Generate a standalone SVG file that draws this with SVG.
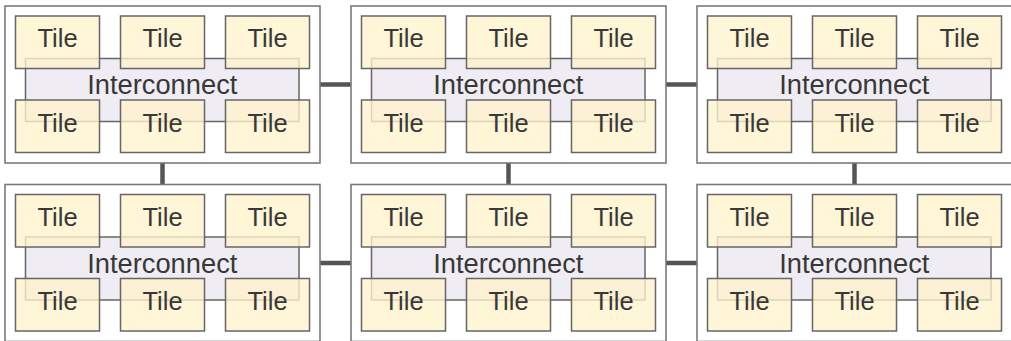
<svg xmlns="http://www.w3.org/2000/svg" width="1011" height="341" viewBox="0 0 1011 341">
  <style>
    .chip { fill: #ffffff; stroke: #7a7a7a; stroke-width: 1.6; }
    .noc { fill: #efecf4; stroke: #666666; stroke-width: 1.5; }
    .tile { fill: #fff2cc; fill-opacity: 0.78; stroke: #666666; stroke-width: 1.5; }
    .tl { font-family: "Liberation Sans", Arial, sans-serif; font-size: 25.5px; fill: #383838; text-anchor: middle; }
    .nl { font-family: "Liberation Sans", Arial, sans-serif; font-size: 27.3px; fill: #383838; text-anchor: middle; }
    .link { stroke: #555555; stroke-width: 4.5; fill: none; }
  </style>
  <defs>
    <!-- one chip: outer frame, interconnect, 2x3 tiles -->
    <g id="chip-body">
      <rect class="chip" x="0" y="0" width="315" height="157"/>
      <g class="interconnect">
        <rect class="noc" x="20.5" y="52.5" width="273.5" height="63"/>
        <text class="nl" x="157.3" y="88.3">Interconnect</text>
      </g>
      <g class="tile-node"><rect class="tile" x="10.5" y="10" width="84" height="52.5"/><text class="tl" x="52.5" y="41.3">Tile</text></g>
      <g class="tile-node"><rect class="tile" x="115.5" y="10" width="84" height="52.5"/><text class="tl" x="157.5" y="41.3">Tile</text></g>
      <g class="tile-node"><rect class="tile" x="220.5" y="10" width="84" height="52.5"/><text class="tl" x="262.5" y="41.3">Tile</text></g>
      <g class="tile-node"><rect class="tile" x="10.5" y="94" width="84" height="52.5"/><text class="tl" x="52.5" y="125.5">Tile</text></g>
      <g class="tile-node"><rect class="tile" x="115.5" y="94" width="84" height="52.5"/><text class="tl" x="157.5" y="125.5">Tile</text></g>
      <g class="tile-node"><rect class="tile" x="220.5" y="94" width="84" height="52.5"/><text class="tl" x="262.5" y="125.5">Tile</text></g>
    </g>
  </defs>

  <!-- links between neighbouring chips -->
  <g id="connectors">
    <line class="link" x1="320" y1="84.5" x2="351" y2="84.5"/>
    <line class="link" x1="666" y1="84.5" x2="697" y2="84.5"/>
    <line class="link" x1="320" y1="263" x2="351" y2="263"/>
    <line class="link" x1="666" y1="263" x2="697" y2="263"/>
    <line class="link" x1="162.5" y1="163" x2="162.5" y2="184.5"/>
    <line class="link" x1="508.5" y1="163" x2="508.5" y2="184.5"/>
    <line class="link" x1="854.5" y1="163" x2="854.5" y2="184.5"/>
  </g>

  <g id="chip-1" transform="translate(5,6)"><use href="#chip-body"/></g>
  <g id="chip-2" transform="translate(351,6)"><use href="#chip-body"/></g>
  <g id="chip-3" transform="translate(697,6)"><use href="#chip-body"/></g>
  <g id="chip-4" transform="translate(5,184.5)"><use href="#chip-body"/></g>
  <g id="chip-5" transform="translate(351,184.5)"><use href="#chip-body"/></g>
  <g id="chip-6" transform="translate(697,184.5)"><use href="#chip-body"/></g>
</svg>
